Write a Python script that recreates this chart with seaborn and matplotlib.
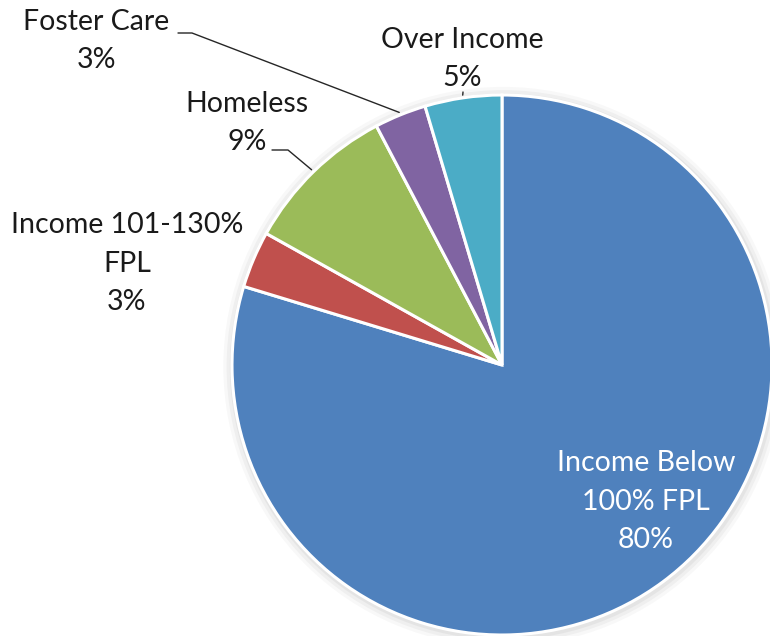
import numpy as np
import seaborn as sns
import matplotlib.pyplot as plt

# data
categories = ['Income Below\n100% FPL', 'Income 101-130%\nFPL', 'Homeless', 'Foster Care', 'Over Income']
shares = [79.7, 3.4, 9.2, 3.1, 4.6]
colors = ['#4F81BD', '#C0504D', '#9BBB59', '#8064A2', '#4BACC6']

sns.set_theme(style='white')
plt.rcParams['font.family'] = ['Lato', 'DejaVu Sans']

fig = plt.figure(figsize=(7.7, 6.36), dpi=100)
ax = fig.add_axes([0, 0, 1, 1])

# pixel -> data helper (pie radius = 270 px, centre at 502,365)
R = 270.0
def px(x, y):
    return (x - 502) / R, (365 - y) / R

# soft shadow behind the pie
for k, a in enumerate([0.05, 0.07, 0.09]):
    ax.add_patch(plt.Circle((0.004, -0.006), 1.0 + 0.012 * (3 - k), color='#7f7f7f',
                            alpha=a, lw=0, zorder=0))

wedges, _ = ax.pie(shares, colors=colors, startangle=90, counterclock=False,
                   wedgeprops=dict(edgecolor='white', linewidth=2.2))
for w in wedges:
    w.set_zorder(2)

total = sum(shares)
pcts = [f"{round(s / total * 100)}%" for s in shares]

# label layout (first line centre in pixels), text colour
layout = {
    0: ((646, 463), 'white'),
    1: ((127, 225), '#1a1a1a'),
    2: ((247, 104), '#1a1a1a'),
    3: ((96, 22), '#1a1a1a'),
    4: ((462, 40), '#1a1a1a'),
}
step = 38.5
for i, ((x0, y0), col) in layout.items():
    lines = categories[i].split('\n') + [pcts[i]]
    if i == 0:
        lines = ['Income Below', '100% FPL', pcts[i]]
    for j, line in enumerate(lines):
        tx, ty = px(x0, y0 + j * step)
        ax.text(tx, ty, line, ha='center', va='center', fontsize=20.5, color=col, zorder=5)

# leader lines from label elbow to wedge edge
def wedge_edge(w, r=1.01):
    mid = np.deg2rad((w.theta1 + w.theta2) / 2)
    return r * np.cos(mid), r * np.sin(mid)

elbows = {3: [(178, 33), (192, 33)], 2: [(272, 150), (288, 150)], 4: [(463, 92)]}
for i, pts in elbows.items():
    xs = [px(*p)[0] for p in pts]
    ys = [px(*p)[1] for p in pts]
    ex, ey = wedge_edge(wedges[i])
    xs.append(ex)
    ys.append(ey)
    ax.plot(xs, ys, color='#262626', lw=1.0, zorder=4)

ax.set_xlim(-502 / R, (770 - 502) / R)
ax.set_ylim(-(636 - 365) / R, 365 / R)
ax.set_aspect('equal')
ax.axis('off')

fig.savefig('out.png', dpi=100, facecolor='white')
